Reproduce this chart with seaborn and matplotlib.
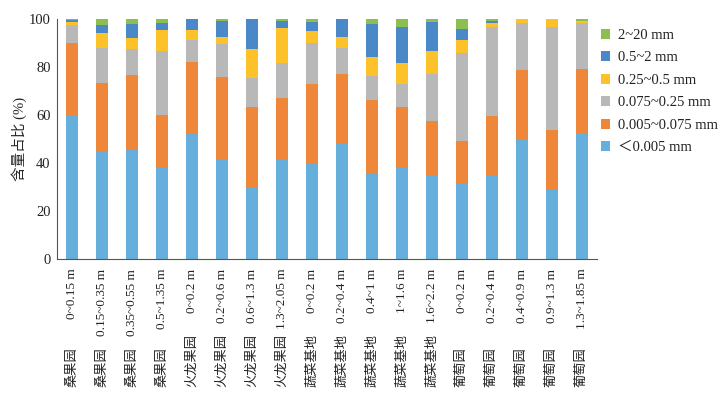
import numpy as np
import pandas as pd
import matplotlib
matplotlib.use("Agg")
import matplotlib.pyplot as plt
import seaborn as sns

sites = ["桑果园", "桑果园", "桑果园", "桑果园",
         "火龙果园", "火龙果园", "火龙果园", "火龙果园",
         "蔬菜基地", "蔬菜基地", "蔬菜基地", "蔬菜基地", "蔬菜基地",
         "葡萄园", "葡萄园", "葡萄园", "葡萄园", "葡萄园"]
depths = ["0~0.15 m", "0.15~0.35 m", "0.35~0.55 m", "0.5~1.35 m",
          "0~0.2 m", "0.2~0.6 m", "0.6~1.3 m", "1.3~2.05 m",
          "0~0.2 m", "0.2~0.4 m", "0.4~1 m", "1~1.6 m", "1.6~2.2 m",
          "0~0.2 m", "0.2~0.4 m", "0.4~0.9 m", "0.9~1.3 m", "1.3~1.85 m"]

# fractions (%), finest to coarsest
clay = [60.0, 45.0, 45.4, 38.1, 52.4, 41.4, 29.4, 41.4, 39.6, 48.1, 35.6, 37.9, 34.9, 31.7, 34.6, 49.9, 29.0, 52.5]
silt = [30.2, 28.3, 31.4, 21.8, 29.8, 34.3, 33.9, 25.6, 33.5, 28.9, 30.8, 25.3, 22.6, 17.3, 25.0, 28.9, 24.8, 26.8]
fine_sand = [7.3, 14.7, 10.7, 26.8, 9.0, 13.8, 12.1, 14.7, 16.7, 10.8, 10.0, 9.9, 19.7, 36.8, 37.1, 19.6, 42.8, 19.1]
med_sand = [1.3, 6.3, 4.6, 8.9, 4.1, 3.1, 12.2, 14.5, 5.4, 4.9, 7.8, 8.7, 9.6, 5.4, 1.6, 1.6, 3.4, 0.6]
coarse_sand = [0.8, 3.3, 6.0, 2.9, 4.7, 6.6, 12.4, 3.0, 3.4, 7.3, 13.9, 14.9, 12.0, 4.8, 1.0, 0.0, 0.0, 0.0]
gravel = [0.4, 2.4, 1.9, 1.5, 0.0, 0.8, 0.0, 0.8, 1.4, 0.0, 1.9, 3.3, 1.2, 4.0, 0.7, 0.0, 0.0, 1.0]

classes = ["＜0.005 mm", "0.005~0.075 mm", "0.075~0.25 mm", "0.25~0.5 mm", "0.5~2 mm", "2~20 mm"]
colors = ["#66AEDC", "#EF873A", "#B8B8B8", "#FDC22A", "#4B88C7", "#8CBE50"]

df = pd.DataFrame({
    "key": [s + d for s, d in zip(sites, depths)],
    classes[0]: clay, classes[1]: silt, classes[2]: fine_sand,
    classes[3]: med_sand, classes[4]: coarse_sand, classes[5]: gravel,
})
cum = df[classes].cumsum(axis=1)

sns.set_style("white")
fams = ["Liberation Serif", "Noto Sans CJK SC", "DejaVu Sans"]
plt.rcParams["font.family"] = fams
plt.rcParams["font.size"] = 9.5

fig = plt.figure(figsize=(7.23, 3.96), dpi=100)
ax = fig.add_axes([57 / 723, 1 - 259 / 396, 540 / 723, 240 / 396])

# draw cumulative totals from the top class down, so each layer covers the one above it
for cls, col in zip(classes[::-1], colors[::-1]):
    sns.barplot(x=df["key"], y=cum[cls], color=col, saturation=1, width=0.4,
                linewidth=0, ax=ax, label=cls)

if ax.get_legend() is not None:
    ax.get_legend().remove()

ax.set_xlim(-0.5, len(sites) - 0.5)
ax.set_ylim(0, 100)
ax.set_yticks(range(0, 101, 20))
ax.set_ylabel("含量占比 (%)", fontsize=10.5, labelpad=1)
ax.set_xlabel("")

ax.set_xticks(range(len(sites)))
ax.set_xticklabels(depths, rotation=90, va="top", ha="center")
ax.set_xticks(np.arange(-0.5, len(sites), 1), minor=True)
ax.tick_params(axis="x", which="major", length=0, pad=7, colors="#222222", labelsize=9.5)
ax.tick_params(axis="x", which="minor", direction="in", length=5, color="#555555")
ax.tick_params(axis="y", direction="out", length=3, color="#555555", labelsize=10.5, pad=1.5,
               labelcolor="#222222")

trans = ax.get_xaxis_transform()
for i, s in enumerate(sites):
    ax.text(i, -0.535, s, rotation=90, ha="center", va="bottom", transform=trans,
            fontsize=9.5, color="#222222")

for side in ["top", "right"]:
    ax.spines[side].set_visible(False)
for side in ["left", "bottom"]:
    ax.spines[side].set_color("#555555")
    ax.spines[side].set_linewidth(0.8)

h, l = ax.get_legend_handles_labels()
leg = fig.legend(h, l, loc="upper left", bbox_to_anchor=(598 / 723, 1 - 26 / 396), frameon=False,
                 handlelength=0.65, handleheight=0.65, handletextpad=0.55,
                 labelspacing=0.65, fontsize=10.5, borderaxespad=0, borderpad=0.2)
for t in leg.get_texts():
    t.set_color("#222222")

fig.savefig("out.png", dpi=100)
